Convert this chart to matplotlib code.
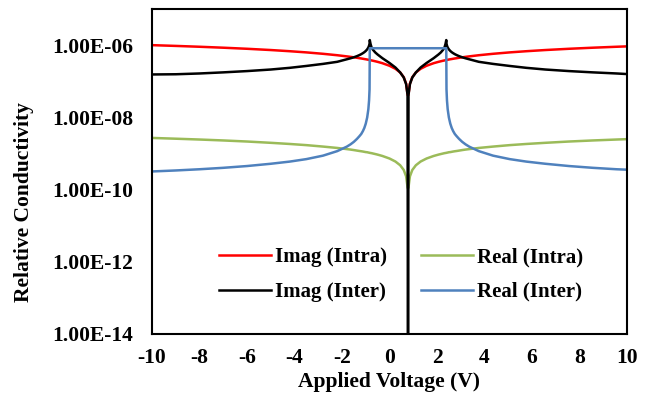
import matplotlib
matplotlib.use('Agg')
import matplotlib.pyplot as plt
import numpy as np

# applied voltage (V), dense near the Dirac point (~0.78 V)
volt = [-10, -9, -8, -7, -6, -5, -4.2, -3.5, -2.8, -2.2, -1.8, -1.64, -1.5, -1.37,
        -1.27, -1.19, -1.12, -1.06, -1.0, -0.94, -0.89, -0.86, -0.84, -0.83, -0.80,
        -0.76, -0.70, -0.6, -0.5, -0.3, 0.0, 0.25, 0.45, 0.6, 0.7, 0.76, 0.78,
        0.80, 0.86, 0.96, 1.11, 1.31, 1.56, 1.86, 2.06, 2.16, 2.26, 2.32, 2.36,
        2.39, 2.40, 2.42, 2.45, 2.50, 2.56, 2.62, 2.68, 2.75, 2.83, 2.93, 3.06,
        3.20, 3.36, 3.76, 4.36, 5.06, 5.76, 6.56, 7.56, 8.56, 9.56, 10]

imag_intra = [9.98e-7, 9.51e-7, 9.01e-7, 8.48e-7, 7.92e-7, 7.31e-7, 6.78e-7, 6.29e-7,
              5.75e-7, 5.25e-7, 4.88e-7, 4.73e-7, 4.59e-7, 4.46e-7, 4.35e-7, 4.27e-7,
              4.19e-7, 4.12e-7, 4.06e-7, 3.99e-7, 3.93e-7, 3.89e-7, 3.87e-7, 3.86e-7,
              3.82e-7, 3.77e-7, 3.70e-7, 3.57e-7, 3.44e-7, 3.16e-7, 2.68e-7, 2.21e-7,
              1.75e-7, 1.29e-7, 8.6e-8, 4.3e-8, np.nan,
              4.3e-8, 8.6e-8, 1.29e-7, 1.75e-7, 2.21e-7, 2.68e-7, 3.16e-7, 3.44e-7,
              3.57e-7, 3.70e-7, 3.77e-7, 3.82e-7, 3.86e-7, 3.87e-7, 3.89e-7, 3.93e-7,
              3.99e-7, 4.06e-7, 4.12e-7, 4.19e-7, 4.27e-7, 4.35e-7, 4.46e-7, 4.59e-7,
              4.73e-7, 4.88e-7, 5.25e-7, 5.75e-7, 6.29e-7, 6.78e-7, 7.31e-7, 7.92e-7,
              8.48e-7, 9.01e-7, 9.23e-7]

real_intra = [2.69e-9, 2.56e-9, 2.43e-9, 2.29e-9, 2.14e-9, 1.97e-9, 1.83e-9, 1.70e-9,
              1.55e-9, 1.42e-9, 1.32e-9, 1.28e-9, 1.24e-9, 1.20e-9, 1.17e-9, 1.15e-9,
              1.13e-9, 1.11e-9, 1.09e-9, 1.08e-9, 1.06e-9, 1.05e-9, 1.04e-9, 1.04e-9,
              1.03e-9, 1.02e-9, 9.98e-10, 9.63e-10, 9.28e-10, 8.52e-10, 7.24e-10,
              5.97e-10, 4.71e-10, 3.48e-10, 2.32e-10, 1.16e-10, np.nan,
              1.16e-10, 2.32e-10, 3.48e-10, 4.71e-10, 5.97e-10, 7.24e-10, 8.52e-10,
              9.28e-10, 9.63e-10, 9.98e-10, 1.02e-9, 1.03e-9, 1.04e-9, 1.04e-9, 1.05e-9,
              1.06e-9, 1.08e-9, 1.09e-9, 1.11e-9, 1.13e-9, 1.15e-9, 1.17e-9, 1.20e-9,
              1.24e-9, 1.28e-9, 1.32e-9, 1.42e-9, 1.55e-9, 1.70e-9, 1.83e-9, 1.97e-9,
              2.14e-9, 2.29e-9, 2.43e-9, 2.49e-9]

imag_inter = [1.54e-7, 1.56e-7, 1.64e-7, 1.76e-7, 1.91e-7, 2.11e-7, 2.35e-7, 2.65e-7,
              3.02e-7, 3.45e-7, 4.05e-7, 4.32e-7, 4.61e-7, 4.95e-7, 5.29e-7, 5.62e-7,
              5.99e-7, 6.37e-7, 6.89e-7, 7.63e-7, 8.60e-7, 9.70e-7, 1.10e-6, 1.38e-6,
              1.09e-6, 8.80e-7, 7.48e-7, 6.27e-7, 5.49e-7, 4.35e-7, 3.20e-7, 2.40e-7,
              1.75e-7, 1.27e-7, 8.3e-8, 4.2e-8, 1e-16,
              4.2e-8, 8.3e-8, 1.27e-7, 1.75e-7, 2.40e-7, 3.20e-7, 4.35e-7, 5.49e-7,
              6.27e-7, 7.48e-7, 8.80e-7, 1.09e-6, 1.38e-6, 1.10e-6, 9.70e-7, 8.60e-7,
              7.63e-7, 6.89e-7, 6.37e-7, 5.99e-7, 5.62e-7, 5.29e-7, 4.95e-7, 4.61e-7,
              4.32e-7, 4.05e-7, 3.45e-7, 3.02e-7, 2.65e-7, 2.35e-7, 2.11e-7, 1.91e-7,
              1.76e-7, 1.64e-7, 1.58e-7]

real_inter = [3.17e-10, 3.38e-10, 3.65e-10, 4.0e-10, 4.48e-10, 5.18e-10, 5.95e-10,
              6.97e-10, 8.69e-10, 1.16e-9, 1.54e-9, 1.79e-9, 2.10e-9, 2.53e-9, 2.99e-9,
              3.46e-9, 4.16e-9, 5.08e-9, 6.67e-9, 9.9e-9, 1.68e-8, 2.95e-8, 6.0e-8,
              8.2e-7, 8.2e-7, 8.2e-7, 8.2e-7, 8.2e-7, 8.2e-7, 8.2e-7, 8.2e-7, 8.2e-7,
              8.2e-7, 8.2e-7, 8.2e-7, 8.2e-7, 8.2e-7,
              8.2e-7, 8.2e-7, 8.2e-7, 8.2e-7, 8.2e-7, 8.2e-7, 8.2e-7, 8.2e-7, 8.2e-7,
              8.2e-7, 8.2e-7, 8.2e-7, 8.2e-7, 6.0e-8, 2.95e-8, 1.68e-8, 9.9e-9, 6.67e-9,
              5.08e-9, 4.16e-9, 3.46e-9, 2.99e-9, 2.53e-9, 2.10e-9, 1.79e-9, 1.54e-9,
              1.16e-9, 8.69e-10, 6.97e-10, 5.95e-10, 5.18e-10, 4.48e-10, 4.0e-10,
              3.65e-10, 3.55e-10]

ytick_vals = [1e-14, 1e-12, 1e-10, 1e-8, 1e-6]
ytick_labels = ['1.00E-14', '1.00E-12', '1.00E-10', '1.00E-08', '1.00E-06']
xtick_vals = [-10, -8, -6, -4, -2, 0, 2, 4, 6, 8, 10]

plt.rcParams['font.family'] = ['Liberation Serif', 'DejaVu Serif']
plt.rcParams['font.weight'] = 'bold'
plt.rcParams['axes.unicode_minus'] = False

fig = plt.figure(figsize=(6.49, 3.97), dpi=100)
ax = fig.add_axes([0.2342, 0.1587, 0.9661 - 0.2342, 0.9773 - 0.1587])

lw = 1.8
l1, = ax.plot(volt, imag_intra, color='#FF0000', lw=lw, label='Imag (Intra)')
l2, = ax.plot(volt, real_intra, color='#9BBB59', lw=lw, label='Real (Intra)')
l3, = ax.plot(volt, imag_inter, color='#000000', lw=lw, label='Imag (Inter)')
l4, = ax.plot(volt, real_inter, color='#4F81BD', lw=lw, label='Real (Inter)')

ax.set_yscale('log')
ax.set_ylim(1e-14, 1e-5)
ax.set_xlim(-10, 10)
ax.set_yticks(ytick_vals)
ax.set_yticklabels(ytick_labels)
ax.yaxis.set_minor_locator(matplotlib.ticker.NullLocator())
ax.set_xticks(xtick_vals)
ax.tick_params(axis='both', length=0, labelsize=15.5)
ax.tick_params(axis='y', pad=13.5)
ax.tick_params(axis='x', pad=10)
for lab in ax.get_xticklabels() + ax.get_yticklabels():
    lab.set_fontweight('bold')

for sp in ax.spines.values():
    sp.set_linewidth(1.5)

ax.set_xlabel('Applied Voltage (V)', fontsize=15.5, fontweight='bold', labelpad=3)
ax.set_ylabel('Relative Conductivity', fontsize=15.5, fontweight='bold')
ax.yaxis.set_label_coords(-0.249, 0.406)

ax.legend(handles=[l1, l3, l2, l4], ncol=2, frameon=False, loc='center',
          bbox_to_anchor=(0.524, 0.183), prop={'size': 15, 'weight': 'bold'},
          handlelength=2.5, handletextpad=0.2, columnspacing=1.6, labelspacing=0.7)

fig.savefig('out.png', dpi=100)
